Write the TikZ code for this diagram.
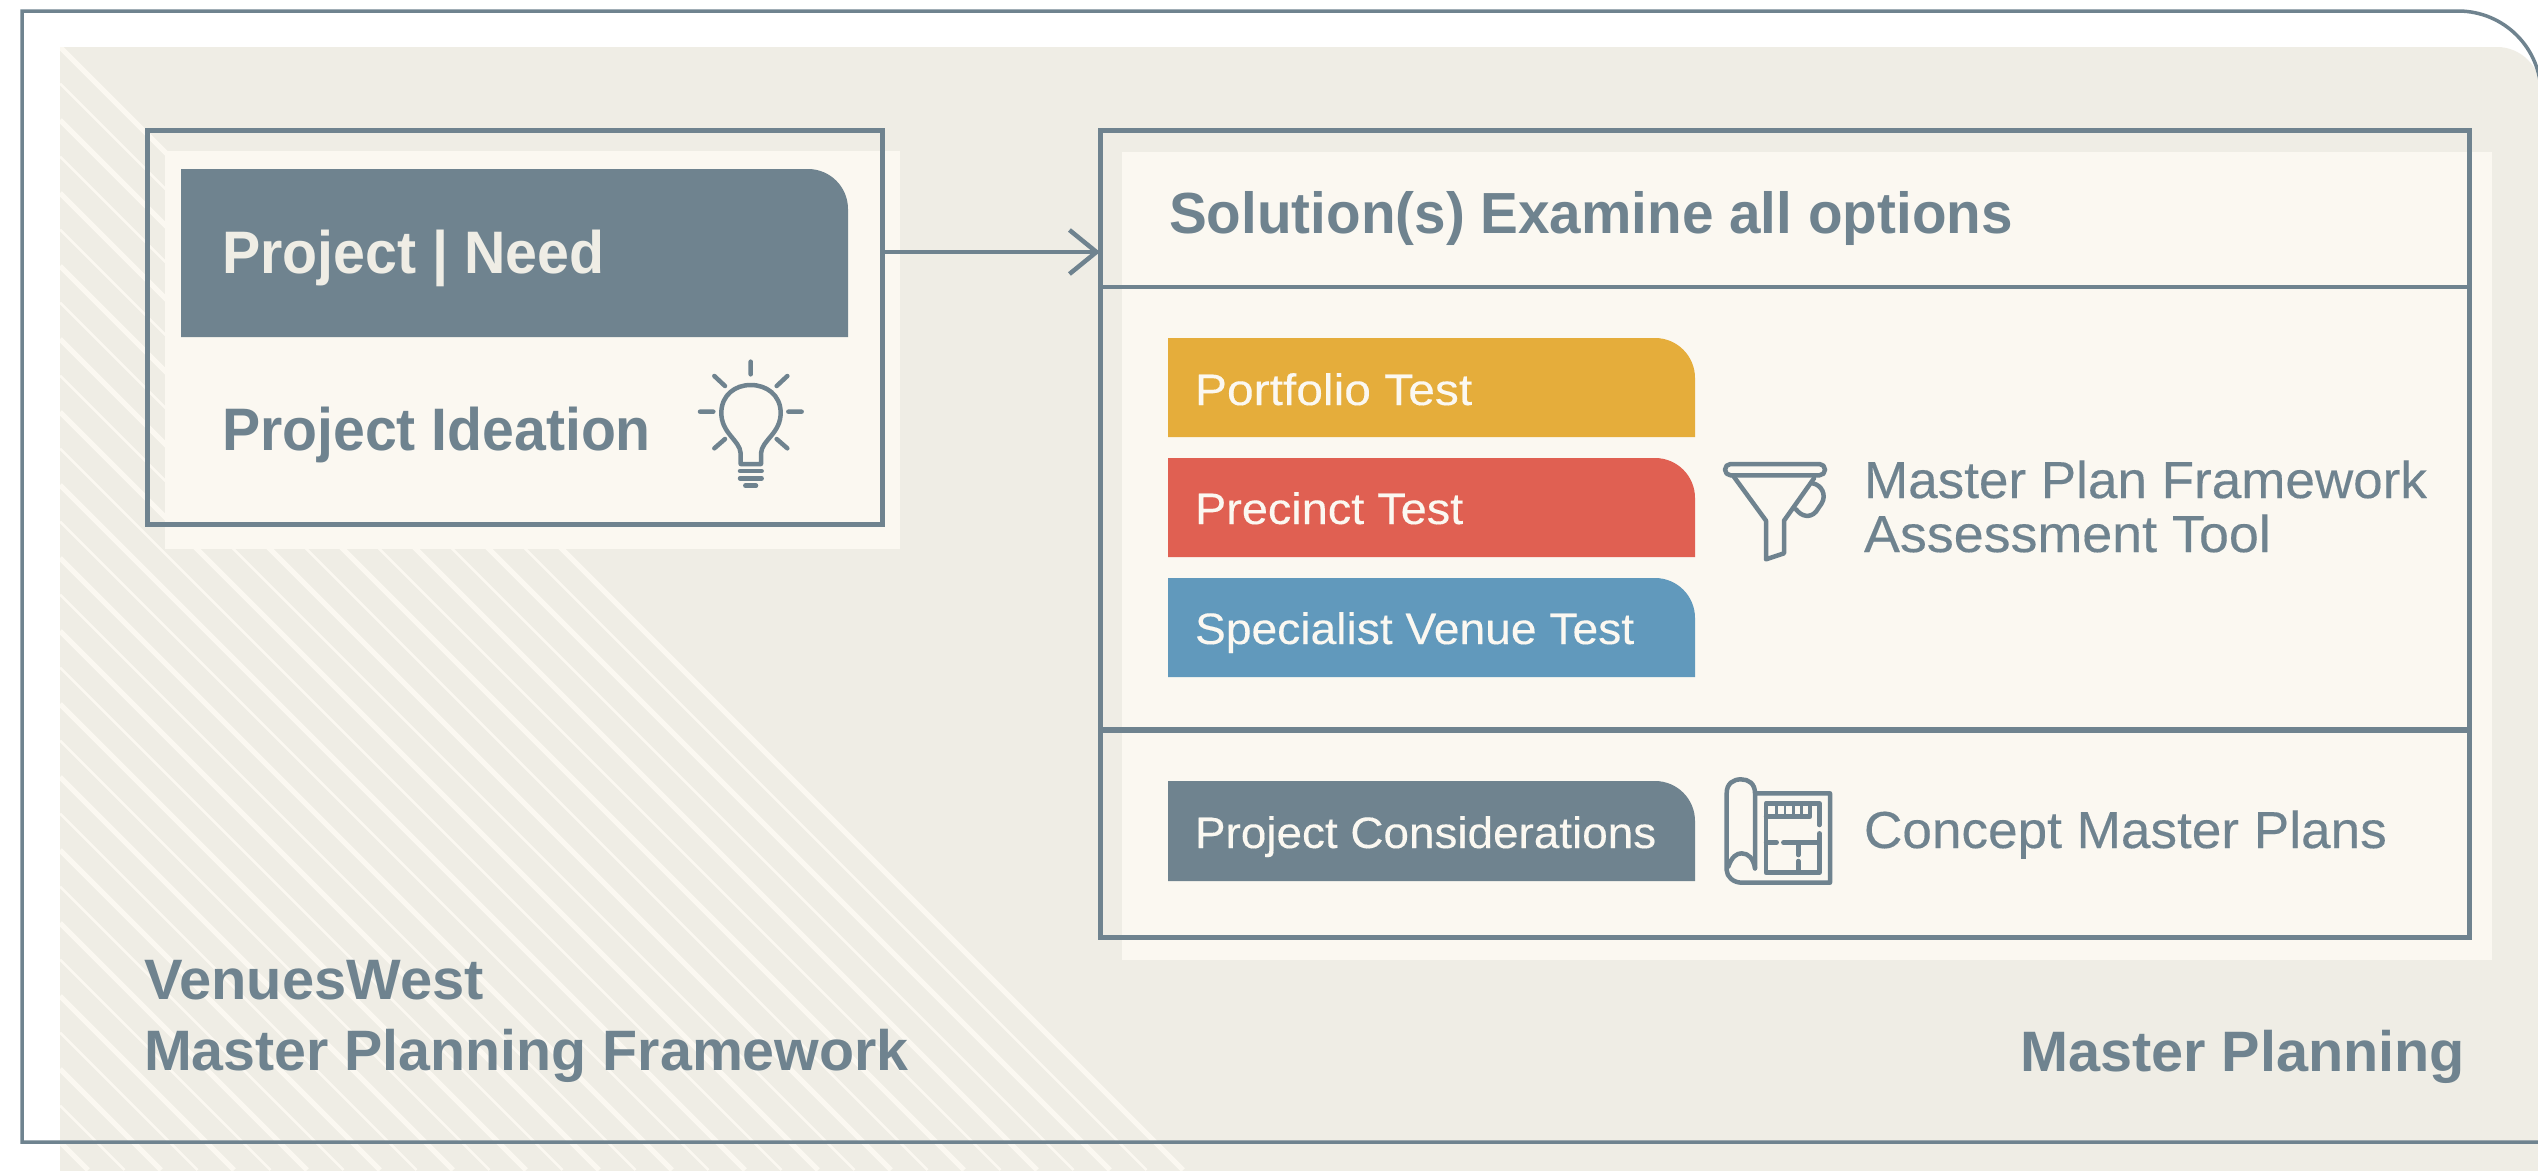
\documentclass[tikz,border=0pt]{standalone}
\usepackage{fontspec}
\setmainfont{Liberation Sans}
\newfontfamily\medfont[FakeBold=0.25]{Liberation Sans}
\usetikzlibrary{arrows.meta}
\definecolor{slate}{HTML}{6F838F}
\definecolor{bgc}{HTML}{EFEDE5}
\definecolor{cream}{HTML}{FBF8F1}
\definecolor{ylw}{HTML}{E5AD3B}
\definecolor{rd}{HTML}{E06052}
\definecolor{blu}{HTML}{6199BC}
\newcommand\fsz[1]{\fontsize{#1pt}{#1pt}\selectfont}
\newcommand\sx[2]{\scalebox{#1}[1]{#2}}
\tikzset{
 x=1pt,y=-1pt,
 txt/.style={anchor=base west,inner sep=0pt,outer sep=0pt},
 head/.style={txt,text=slate,font=\fsz{60}\bfseries},
 side/.style={txt,text=slate,font=\fsz{57}\bfseries},
 plain/.style={txt,text=slate,font=\fsz{52}\medfont},
 pilltxt/.style={txt,text=cream,font=\fsz{44}\medfont},
 outline/.style={draw=slate,line width=5pt,inner sep=0pt,outer sep=0pt},
 panel/.style={fill=cream},
 ic/.style={draw=slate,line width=4.5pt,line cap=round,line join=round},
 arrowline/.style={draw=slate,line width=4.5pt,-{Straight Barb[length=27pt,width=44pt,line width=4.5pt]}},
}
% x, top, right, bottom, colour
\newcommand\pillshape[5]{\fill[#5] (#1,#2) [rounded corners=40pt] -- (#3,#2) [sharp corners] -- (#3,#4) -- (#1,#4) -- cycle;}
\begin{document}
\begin{tikzpicture}
\useasboundingbox (0,0) rectangle (2538,1170);
\fill[white] (0,0) rectangle (2538,1170);
% background
\fill[bgc] (60,1175) -- (60,47) -- (2497,47) .. controls (2521,47) and (2541,67) .. (2541,91) -- (2541,1175) -- cycle;
% hatching
\begin{scope}
\clip (60,47) rectangle (2541,1170);
\foreach \k in {0,...,32}{
  \pgfmathsetmacro\cc{13-36.5*\k}
  \pgfmathtruncatemacro\even{mod(\k,2)==0}
  \ifnum\even=1 \def\lw{5pt}\else\def\lw{2.5pt}\fi
  \draw[cream,line width=\lw] (60,60-\cc) -- (1170+\cc,1170);
}
\end{scope}
% outer frame
\draw[slate,line width=3.5pt] (22,1142) -- (22,11) -- (2458,11) .. controls (2504,11) and (2541,48) .. (2541,94) -- (2541,1142) -- cycle;
% panels
\fill[panel] (165,151) rectangle (900,549);
\fill[panel] (1122,152) rectangle (2492,960);
% left box
\node[outline,minimum width=735pt,minimum height=394pt,anchor=north west] (ideabox) at (147,130) {};
\pillshape{181}{169}{848}{337}{slate}
\node[txt,text=bgc,font=\fsz{60}\bfseries] (need) at (222,273) {\sx{.955}{Project | Need}};
\node[head] (idea) at (222,450) {\sx{.953}{Project Ideation}};
% bulb icon
\begin{scope}[shift={(680,340)},x=1pt/3,y=-1pt/3]
 \draw[ic] (182,372) -- (182,340) .. controls (180,300) and (122,280) .. (124,215)
   .. controls (126,165) and (165,135) .. (212,135)
   .. controls (260,135) and (300,165) .. (302,215)
   .. controls (304,280) and (245,300) .. (243,340) -- (243,372) -- cycle;
 \draw[ic] (212,65) -- (212,103) (60,215) -- (100,215) (325,215) -- (365,215)
   (103,108) -- (135,138) (322,108) -- (290,138) (103,325) -- (135,297) (322,325) -- (290,297);
 \draw[ic] (180,393) -- (245,393) (180,415) -- (245,415) (196,437) -- (228,437);
\end{scope}
% right box
\node[outline,minimum width=1369pt,minimum height=807pt,anchor=north west] (solbox) at (1100,130) {};
\draw[slate,line width=4.5pt] (solbox.west |- 0,287) -- (solbox.east |- 0,287);
\draw[slate,line width=6pt] (solbox.west |- 0,730) -- (solbox.east |- 0,730);
\node[head,font=\fsz{58}\bfseries] (sol) at (1169,233) {\sx{.977}{Solution(s) Examine all options}};
\pillshape{1168}{338}{1695}{437}{ylw}
\pillshape{1168}{458}{1695}{557}{rd}
\pillshape{1168}{578}{1695}{677}{blu}
\pillshape{1168}{781}{1695}{881}{slate}
\node[pilltxt] (p1) at (1195,405) {\sx{1.09}{Portfolio Test}};
\node[pilltxt] (p2) at (1195,524) {\sx{1.065}{Precinct Test}};
\node[pilltxt] (p3) at (1195,644) {\sx{1.05}{Specialist Venue Test}};
\node[pilltxt] (p4) at (1195,848) {\sx{1.042}{Project Considerations}};
% funnel icon
\begin{scope}[shift={(1710,450)},x=1pt/3,y=-1pt/3]
 \draw[ic,rounded corners=5.6pt] (45,42) rectangle (345,76);
 \draw[ic] (70,78) -- (168,212) -- (168,328) -- (222,310) -- (222,212) -- (312,85);
 \draw[ic] (308,100) .. controls (335,105) and (350,135) .. (335,160) -- (318,185) .. controls (300,205) and (275,200) .. (258,178);
\end{scope}
\node[plain] (mp1) at (1864,498) {\sx{1.02}{Master Plan Framework}};
\node[plain] (mp2) at (1864,552) {\sx{1.035}{Assessment Tool}};
% plan icon
\begin{scope}[shift={(1700,760)},x=1pt/3,y=-1pt/3]
 \draw[ic] (165,325) -- (165,100) .. controls (165,70) and (145,58) .. (123,58) .. controls (100,58) and (80,70) .. (80,100) -- (80,330)
   .. controls (80,350) and (100,368) .. (125,368) -- (390,368) -- (390,100) -- (170,100);
 \draw[ic] (85,320) .. controls (95,290) and (110,280) .. (125,280) .. controls (145,280) and (160,295) .. (165,325);
 \draw[ic] (358,195) -- (358,130) -- (198,130) -- (198,338) -- (358,338) -- (358,220);
 \draw[ic] (198,170) -- (330,170) -- (330,135);
 \draw[slate,line width=2.5pt] (230,133) -- (230,167) (255,133) -- (255,167) (280,133) -- (280,167) (305,133) -- (305,167);
 \draw[ic] (198,247) -- (230,247) (250,247) -- (358,247) (295,247) -- (295,285) (295,303) -- (295,338);
\end{scope}
\node[plain] (cmp) at (1864,848) {\sx{1.022}{Concept Master Plans}};
% captions
\node[side] (c1) at (144,999) {\sx{1.015}{VenuesWest}};
\node[side] (c2) at (144,1070) {\sx{1.006}{Master Planning Framework}};
\node[side] (c3) at (2020,1071) {\sx{1.011}{Master Planning}};
% arrow
\coordinate (needrow) at (0,252);
\draw[arrowline] (ideabox.east |- needrow) -- (solbox.west |- needrow);
\end{tikzpicture}
\end{document}
